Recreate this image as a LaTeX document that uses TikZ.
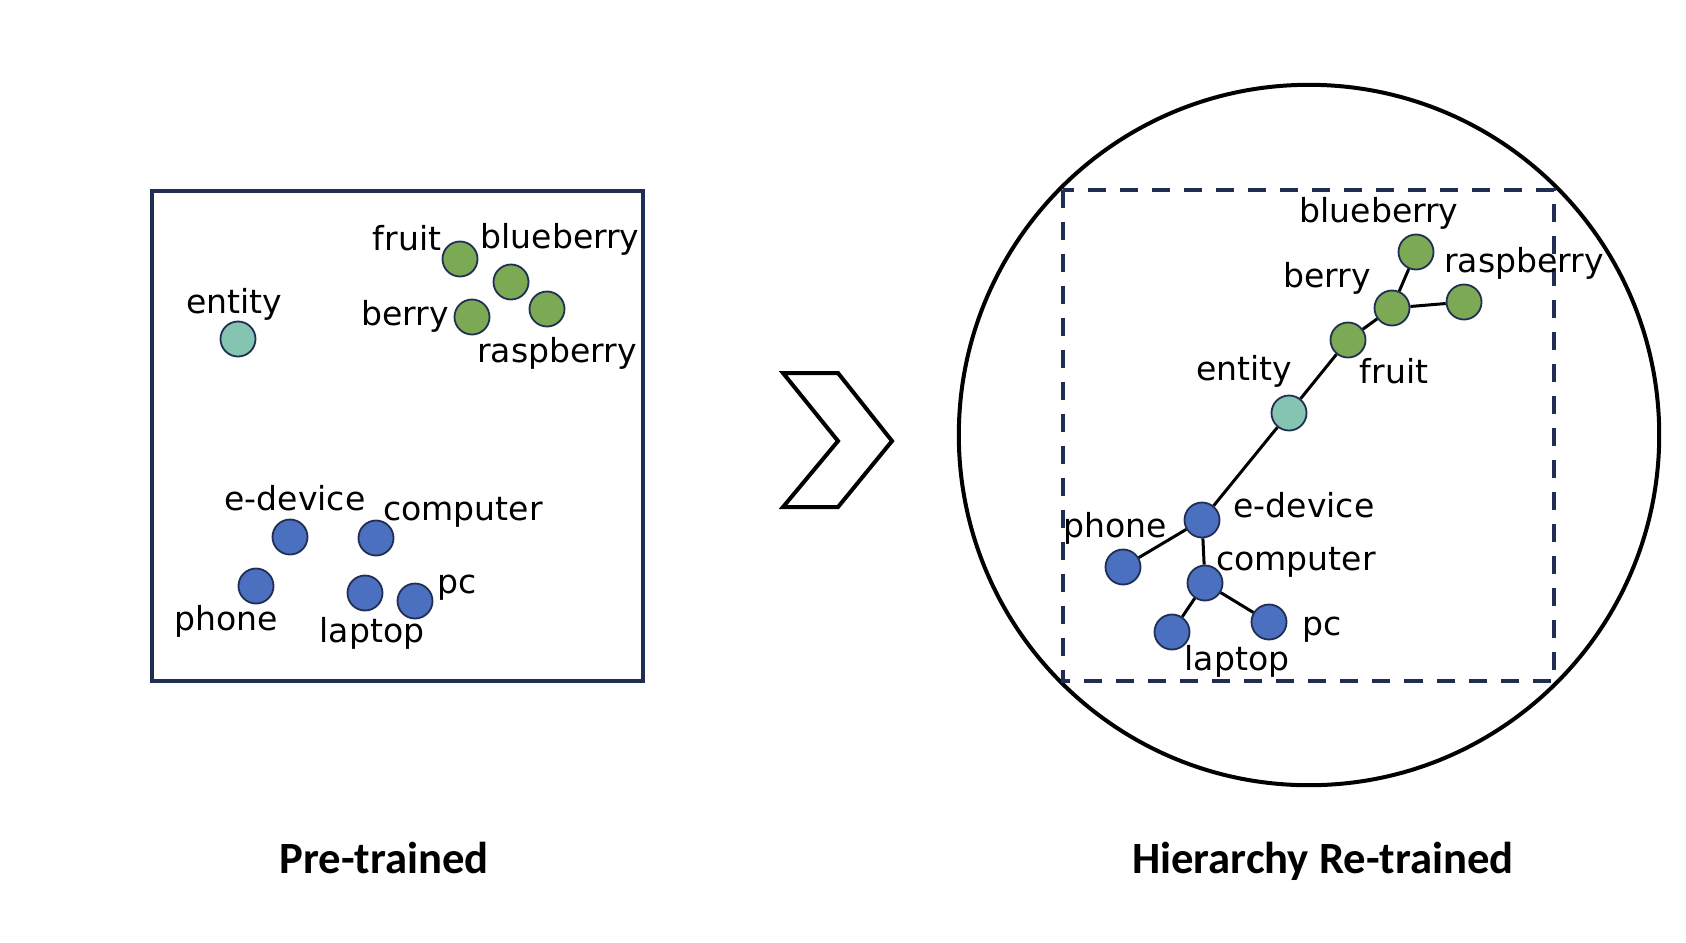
\documentclass[tikz,border=0pt]{standalone}
\usepackage{fontspec}
\setmainfont{DejaVu Sans}
\newfontfamily\titlefont{Carlito}
\usepackage{color}
\definecolor{mygreen}{RGB}{124,170,84}
\definecolor{myteal}{RGB}{132,196,176}
\definecolor{myblue}{RGB}{76,112,192}
\definecolor{mynavy}{RGB}{32,46,84}
\usepackage{tikz}
\usetikzlibrary{positioning}
\tikzstyle{vertex}=[draw=mynavy,line width=0.018cm,circle,minimum size=0.35cm,inner sep=0pt]
\tikzstyle{word}=[anchor=base,inner sep=0pt,font=\fontsize{9.4}{11}\selectfont]
\tikzstyle{caption}=[anchor=base,inner sep=0pt,font=\titlefont\bfseries\fontsize{12.7}{14}\selectfont]
\tikzstyle{link}=[line width=0.03cm]

\begin{document}
\begin{tikzpicture}[x=0.01cm,y=-0.01cm]
\useasboundingbox (0,0) rectangle (1686,942);
% pre-trained space
\draw[mynavy,line width=0.04cm] (152,191) rectangle (643,681);
\draw (238,339) node [vertex, fill=myteal] (lentity) {};
\draw (460,259) node [vertex, fill=mygreen] (lfruit) {};
\draw (511,282) node [vertex, fill=mygreen] (lblueberry) {};
\draw (472,317) node [vertex, fill=mygreen] (lberry) {};
\draw (547,309) node [vertex, fill=mygreen] (lraspberry) {};
\draw (290,537) node [vertex, fill=myblue] (ledevice) {};
\draw (376,538) node [vertex, fill=myblue] (lcomputer) {};
\draw (256,586) node [vertex, fill=myblue] (lphone) {};
\draw (365,593) node [vertex, fill=myblue] (llaptop) {};
\draw (415,601) node [vertex, fill=myblue] (lpc) {};
\draw (234,313) node [word] (tlentity) {entity};
\draw (407,250) node [word] (tlfruit) {fruit};
\draw (560,248) node [word] (tlblueberry) {blueberry};
\draw (405,325) node [word] (tlberry) {berry};
\draw (557,362) node [word] (tlraspberry) {raspberry};
\draw (295,510) node [word] (tledevice) {e-device};
\draw (463,520) node [word] (tlcomputer) {computer};
\draw (226,630) node [word] (tlphone) {phone};
\draw (372,642) node [word] (tllaptop) {laptop};
\draw (457,593) node [word] (tlpc) {pc};
\draw (384,873) node [caption] (pretrained) {Pre-trained};

% arrow
\draw[line width=0.04cm] (783,373) -- (838,373) -- (892,441) -- (838,507) -- (783,507) -- (838,441) -- cycle;

% hierarchy re-trained space
\draw[line width=0.04cm] (1309,435) circle (3.5cm);
\draw[mynavy,line width=0.045cm,dash pattern=on 0.18cm off 0.14cm] (1063,190) rectangle (1554,681);
\draw (1289,413) node [vertex, fill=myteal] (rentity) {};
\draw (1348,340) node [vertex, fill=mygreen] (rfruit) {};
\draw (1392,308) node [vertex, fill=mygreen] (rberry) {};
\draw (1416,252) node [vertex, fill=mygreen] (rblueberry) {};
\draw (1464,302) node [vertex, fill=mygreen] (rraspberry) {};
\draw (1202,520) node [vertex, fill=myblue] (redevice) {};
\draw (1123,567) node [vertex, fill=myblue] (rphone) {};
\draw (1205,583) node [vertex, fill=myblue] (rcomputer) {};
\draw (1172,632) node [vertex, fill=myblue] (rlaptop) {};
\draw (1269,622) node [vertex, fill=myblue] (rpc) {};
\draw[link] (rentity) -- (rfruit);
\draw[link] (rfruit) -- (rberry);
\draw[link] (rberry) -- (rblueberry);
\draw[link] (rberry) -- (rraspberry);
\draw[link] (rentity) -- (redevice);
\draw[link] (redevice) -- (rphone);
\draw[link] (redevice) -- (rcomputer);
\draw[link] (rcomputer) -- (rlaptop);
\draw[link] (rcomputer) -- (rpc);
\draw (1379,222) node [word] (trblueberry) {blueberry};
\draw (1524,272) node [word] (trraspberry) {raspberry};
\draw (1327,287) node [word] (trberry) {berry};
\draw (1244,380) node [word] (trentity) {entity};
\draw (1394,383) node [word] (trfruit) {fruit};
\draw (1304,517) node [word] (tredevice) {e-device};
\draw (1115,537) node [word] (trphone) {phone};
\draw (1296,570) node [word] (trcomputer) {computer};
\draw (1322,635) node [word] (trpc) {pc};
\draw (1237,670) node [word] (trlaptop) {laptop};
\draw (1323,873) node [caption] (retrained) {Hierarchy Re-trained};
\end{tikzpicture}
\end{document}
